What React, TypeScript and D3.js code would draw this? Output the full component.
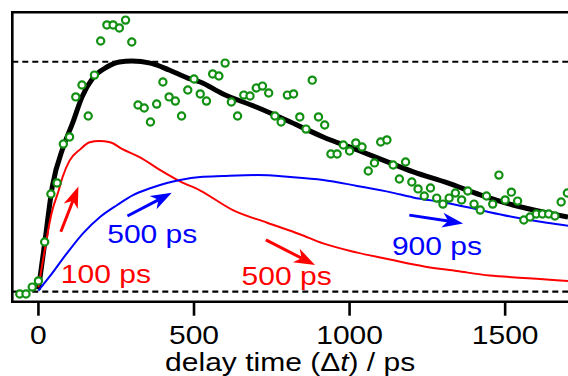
import React, { useEffect, useRef } from 'react';
import * as d3 from 'd3';

// measured points (delay in ps, signal normalised so the upper dashed line = 1)
const dataTimes = [-60, -40, -20, 0, 20, 40, 60, 80, 100, 120, 140, 160, 180, 200, 220, 240, 260, 280, 300, 320,
  340, 360, 380, 400, 420, 440, 460, 480, 500, 520, 540, 560, 580, 600, 620, 640, 660, 680, 700, 720,
  740, 760, 780, 800, 820, 840, 860, 880, 900, 920, 940, 960, 980, 1000, 1020, 1040, 1060, 1080, 1100, 1120,
  1140, 1160, 1180, 1200, 1220, 1240, 1260, 1280, 1300, 1320, 1340, 1360, 1380, 1400, 1420, 1440, 1460, 1480, 1500, 1520,
  1540, 1560, 1580, 1600, 1620, 1640, 1660, 1680, 1700];
const dataSignal = [-0.01, -0.01, 0.02, 0.047, 0.216, 0.425, 0.473, 0.642, 0.673, 0.847, 0.899, 0.764, 0.942, 1.09, 1.16, 1.16, 1.147, 1.181, 1.086, 0.812,
  0.799, 0.738, 0.816, 0.912, 0.847, 0.829, 0.764, 0.877, 0.925, 0.86, 0.829, 0.947, 0.938, 0.994, 0.825, 0.764, 0.855, 0.851, 0.886, 0.894,
  0.864, 0.764, 0.738, 0.855, 0.86, 0.76, 0.707, 0.92, 0.76, 0.725, 0.599, 0.599, 0.638, 0.612, 0.647, 0.629, 0.525, 0.56, 0.651, 0.66,
  0.551, 0.49, 0.564, 0.477, 0.447, 0.416, 0.451, 0.407, 0.381, 0.407, 0.429, 0.399, 0.438, 0.381, 0.355, 0.416, 0.381, 0.507, 0.399, 0.433,
  0.394, 0.312, 0.325, 0.338, 0.338, 0.338, 0.329, 0.39, 0.429];

// total fit (black)
const fitTimes = [0, 20, 45, 80, 110, 140, 175, 220, 260, 300, 360, 420, 480, 520, 590, 700, 810, 915, 1025, 1130, 1205, 1315, 1420, 1525, 1635, 1702];
const fitValues = [0.01, 0.21, 0.46, 0.63, 0.734, 0.847, 0.929, 0.977, 0.999, 1.003, 0.994, 0.964, 0.929, 0.912, 0.862, 0.803, 0.738, 0.673, 0.616, 0.56, 0.521, 0.473, 0.421, 0.377, 0.343, 0.325];

// 100 ps rise / 500 ps decay component (red)
const redTimes = [0, 20, 42, 65, 78, 100, 135, 165, 195, 230, 270, 325, 390, 455, 520, 625, 735, 840, 915, 1025, 1130, 1240, 1345, 1450, 1560, 1665, 1702];
const redValues = [0.02, 0.18, 0.34, 0.44, 0.5, 0.57, 0.62, 0.65, 0.655, 0.65, 0.62, 0.585, 0.53, 0.48, 0.44, 0.355, 0.3, 0.25, 0.21, 0.17, 0.14, 0.11, 0.09, 0.07, 0.06, 0.05, 0.047];

// 500 ps rise / 900 ps decay component (blue)
const blueTimes = [0, 35, 92, 144, 198, 253, 304, 359, 413, 455, 520, 593, 703, 809, 915, 1024, 1130, 1204, 1313, 1419, 1525, 1634, 1702];
const blueValues = [0.005, 0.064, 0.168, 0.255, 0.325, 0.377, 0.42, 0.45, 0.473, 0.486, 0.499, 0.503, 0.507, 0.499, 0.486, 0.46, 0.433, 0.41, 0.386, 0.355, 0.325, 0.3, 0.287];

const xTicks = [0, 500, 1000, 1500];
const refLevels = [0, 1];

// annotations: arrows [t0, v0, t1, v1] and labels [t, v]
const arrowColors = ['red', 'blue', 'red', 'blue'];
const arrowCoords = [[72, 0.261, 128.5, 0.457], [286, 0.329, 428.5, 0.43], [731, 0.225, 889, 0.116], [1192, 0.333, 1365, 0.297]];
const labelTexts = ['100 ps', '500 ps', '500 ps', '900 ps'];
const labelColors = ['red', 'blue', 'red', 'blue'];
const labelCoords = [[72, 0.0365], [221, 0.21], [653, 0.029], [1136, 0.16]];

const W = 568, H = 376;
const FONT = '"Liberation Sans", Arial, sans-serif';
const RED = '#ff0000', BLUE = '#0000ff', GREEN = '#119011';

const App = () => {
  const svgRef = useRef<SVGSVGElement>(null);

  useEffect(() => {
    const svg = d3.select(svgRef.current);
    svg.selectAll('*').remove();

    const x = d3.scaleLinear().domain([-84, 1702]).range([12.3, 568]);
    const y = d3.scaleLinear().domain([-0.0435, 1.215]).range([301.7, 12.3]);
    const [x0, x1] = x.range();
    const [yb, yt] = y.range();

    // dashed reference lines
    svg.selectAll('.ref')
      .data(refLevels)
      .enter()
      .append('line')
      .attr('x1', x0).attr('x2', x1)
      .attr('y1', d => y(d)).attr('y2', d => y(d))
      .attr('stroke', '#000')
      .attr('stroke-width', 2.2)
      .attr('stroke-dasharray', '6,4');

    const line = d3.line<[number, number]>()
      .x(d => x(d[0]))
      .y(d => y(d[1]))
      .curve(d3.curveMonotoneX);

    const zip = (ts: number[], vs: number[]) => ts.map((t, i) => [t, vs[i]] as [number, number]);

    svg.append('path').datum(zip(fitTimes, fitValues))
      .attr('fill', 'none').attr('stroke', '#000').attr('stroke-width', 5).attr('d', line);
    svg.append('path').datum(zip(redTimes, redValues))
      .attr('fill', 'none').attr('stroke', RED).attr('stroke-width', 2).attr('d', line);
    svg.append('path').datum(zip(blueTimes, blueValues))
      .attr('fill', 'none').attr('stroke', BLUE).attr('stroke-width', 2).attr('d', line);

    // data markers
    svg.selectAll('.pt')
      .data(zip(dataTimes, dataSignal))
      .enter()
      .append('circle')
      .attr('cx', d => x(d[0]))
      .attr('cy', d => y(d[1]))
      .attr('r', 3.6)
      .attr('fill', '#fff')
      .attr('stroke', GREEN)
      .attr('stroke-width', 2.2);

    // frame + axis
    svg.append('path')
      .attr('d', `M${x1},${yt}H${x0}V${yb}H${x1}`)
      .attr('fill', 'none').attr('stroke', '#000').attr('stroke-width', 2.6);

    const tick = svg.selectAll('.tick').data(xTicks).enter().append('g')
      .attr('transform', d => `translate(${x(d)},${yb})`);
    tick.append('line').attr('y1', 0).attr('y2', 14).attr('stroke', '#000').attr('stroke-width', 2.6);
    tick.append('text')
      .attr('transform', 'translate(0,42.5) scale(1.2,1)')
      .attr('text-anchor', 'middle')
      .attr('font-family', FONT).attr('font-size', 25)
      .text(d => d);

    const title = svg.append('text')
      .attr('transform', `translate(${(x0 + x1) / 2},371) scale(1.2,1)`)
      .attr('text-anchor', 'middle')
      .attr('font-family', FONT).attr('font-size', 25);
    title.append('tspan').text('delay time (\u0394');
    title.append('tspan').attr('font-style', 'italic').text('t');
    title.append('tspan').text(') / ps');

    // arrows
    arrowCoords.forEach((a, i) => {
      const px0 = x(a[0]), py0 = y(a[1]), px1 = x(a[2]), py1 = y(a[3]);
      const len = Math.hypot(px1 - px0, py1 - py0);
      const ux = (px1 - px0) / len, uy = (py1 - py0) / len;
      const nx = -uy, ny = ux;
      const L = 21, Wd = 7.5, notch = 0.72 * L;
      svg.append('line')
        .attr('x1', px0).attr('y1', py0)
        .attr('x2', px1 - ux * notch).attr('y2', py1 - uy * notch)
        .attr('stroke', arrowColors[i]).attr('stroke-width', 3);
      const pts = [
        [px1, py1],
        [px1 - ux * L + nx * Wd, py1 - uy * L + ny * Wd],
        [px1 - ux * notch, py1 - uy * notch],
        [px1 - ux * L - nx * Wd, py1 - uy * L - ny * Wd],
      ];
      svg.append('polygon')
        .attr('points', pts.map(p => p.join(',')).join(' '))
        .attr('fill', arrowColors[i]);
    });

    labelCoords.forEach((c, i) => {
      svg.append('text')
        .attr('transform', `translate(${x(c[0])},${y(c[1])}) scale(1.2,1)`)
        .attr('font-family', FONT).attr('font-size', 25)
        .attr('fill', labelColors[i])
        .text(labelTexts[i]);
    });
  }, []);

  return (
    <svg ref={svgRef} width={W} height={H}
      style={{ position: 'absolute', left: 0, top: 0, background: '#fff' }} />
  );
};

export default App;
